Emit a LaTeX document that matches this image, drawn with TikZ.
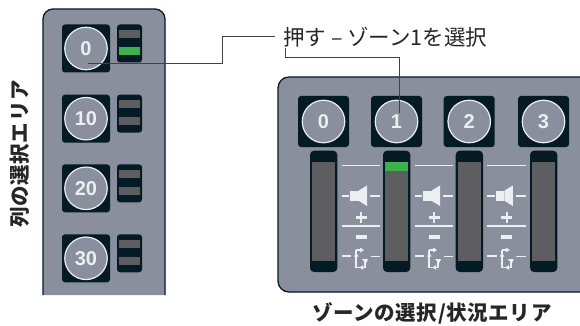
\documentclass[tikz,border=0pt]{standalone}
\usepackage{fontspec}
\newfontfamily\cjkfont{Noto Sans CJK JP}
\newfontfamily\numfont{Liberation Sans}
\definecolor{panelgray}{HTML}{8A8F9D}
\definecolor{darkbox}{HTML}{041A25}
\definecolor{ledgray}{HTML}{5E5E60}
\definecolor{ledgreen}{HTML}{3CB14E}
\definecolor{iconwhite}{HTML}{EDEEF1}
\definecolor{leader}{HTML}{3F4247}
\tikzset{
  panelstyle/.style={fill=panelgray,draw=darkbox,line width=1.3pt},
  darkstyle/.style={fill=darkbox,rounded corners=3pt},
  ringstyle/.style={circle,draw=iconwhite,fill=panelgray,line width=1.2pt,minimum size=42.5pt,inner sep=0pt,text=iconwhite,font=\numfont\bfseries\fontsize{20}{20}\selectfont},
  iconline/.style={draw=iconwhite,line width=1.5pt},
  iconfill/.style={fill=iconwhite},
  leaderline/.style={draw=leader,line width=1pt},
  labelstyle/.style={inner sep=0pt,text=black!85,font=\cjkfont\bfseries\fontsize{20.5}{24}\selectfont},
}
\newcommand{\rowbtn}[4]{% y, text, name, lit
  \fill[darkstyle] (62,#1) rectangle (110,#1+48);
  \node[ringstyle] (#3) at (86,#1+24) {#2};
  \fill[darkstyle] (117,#1) rectangle (142,#1+38);
  \fill[ledgray] (119,#1+5.5) rectangle (140,#1+13.5);
  \fill[#4] (119,#1+22.5) rectangle (140,#1+30.5);
}
\newcommand{\zonebtn}[3]{% cx, text, name
  \fill[darkstyle] (#1-25.5,96) rectangle (#1+25.5,147);
  \node[ringstyle] (#3) at (#1,121.5) {#2};
}
\newcommand{\slider}[1]{% left x
  \fill[darkstyle,rounded corners=4pt] (#1,150.7) rectangle (#1+27.3,272);
  \fill[ledgray] (#1+2,162) rectangle (#1+25.3,261);
}
\newcommand{\icons}[1]{% left x of group
  \begin{scope}[shift={(#1,0)}]
    \path[iconline] (0,165.7) -- (38.5,165.7);
    \path[iconline] (0,195.8) -- (7.5,195.8) (28.5,195.8) -- (38.5,195.8);
    \fill[iconfill] (8.5,190.7) rectangle (17,200.7);
    \fill[iconfill] (17,190.7) -- (25.5,185.5) -- (25.5,206) -- (17,200.7) -- cycle;
    \fill[iconfill] (18.2,212.3) rectangle (20.8,222.9);
    \fill[iconfill] (14,216.3) rectangle (25,218.9);
    \path[iconline,line width=1.7pt] (0,226) -- (38.5,226);
    \fill[iconfill] (14,235) rectangle (25,239);
    \path[iconline] (0,256) -- (9.5,256) (29,256.5) -- (38.5,256.5);
    \path[iconline] (14.7,250) -- (19,250) (14.7,250) -- (14.7,267.5) -- (23.5,267.5) -- (23.5,260);
    \fill[iconfill] (18.5,247.5) -- (22.5,250) -- (18.5,252.5) -- cycle;
    \fill[iconfill] (12.5,256.5) -- (14.7,252.5) -- (17,256.5) -- cycle;
    \fill[iconfill] (20.5,259) -- (26.5,259) -- (24.5,263.5) -- cycle;
    \fill[iconfill] (21.5,265.2) -- (18,267.5) -- (21.5,269.8) -- cycle;
  \end{scope}
}
\begin{document}
\begin{tikzpicture}[x=1pt,y=-1pt]
\useasboundingbox (0,0) rectangle (580,326);
% left panel
\fill[panelgray,rounded corners=10pt] (43,295) -- (43,9) -- (165,9) -- (165,295);
\fill[panelgray] (43,280) rectangle (165,295);
\draw[darkbox,line width=1.3pt,rounded corners=10pt] (43,295) -- (43,9) -- (165,9) -- (165,295);
\rowbtn{24.5}{0}{col0}{ledgreen}
\rowbtn{94.7}{10}{col10}{ledgray}
\rowbtn{164.3}{20}{col20}{ledgray}
\rowbtn{234.3}{30}{col30}{ledgray}
% right panel
\begin{scope}
\clip (0,0) rectangle (580,326);
\draw[panelstyle,rounded corners=11pt] (600,77) -- (278,77) -- (278,292) -- (600,292);
\end{scope}
\zonebtn{323.5}{0}{zone0}
\zonebtn{396.5}{1}{zone1}
\zonebtn{469.2}{2}{zone2}
\zonebtn{543.5}{3}{zone3}
\slider{310}
\slider{383}
\slider{455.7}
\slider{530}
\fill[ledgreen] (385,162) rectangle (408.3,171);
\icons{341.5}
\icons{414.5}
\icons{487.3}
% labels
\node[inner sep=0pt,anchor=west,text=black!85,font=\cjkfont\fontsize{21.5}{24}\selectfont] (pushlabel) at (283,37) {押す – ゾーン1を選択};
\node[labelstyle,rotate=90] (collabel) at (20,154) {\addfontfeature{LetterSpace=3.5}列の選択エリア};
\node[labelstyle] (zonelabel) at (432,313) {\addfontfeature{LetterSpace=3}ゾーンの選択/状況エリア};
% leaders
\coordinate (lblA) at (275,37);
\coordinate (lblB) at (285,48);
\coordinate (endA) at (88,63.5);
\coordinate (endB) at (399,113);
\draw[leaderline] (endA) -- (222.7,63.5) -- (222.7,37) -- (lblA);
\draw[leaderline] (lblB) -- (285,57.7) -- (399,57.7) -- (endB);
\end{tikzpicture}
\end{document}
